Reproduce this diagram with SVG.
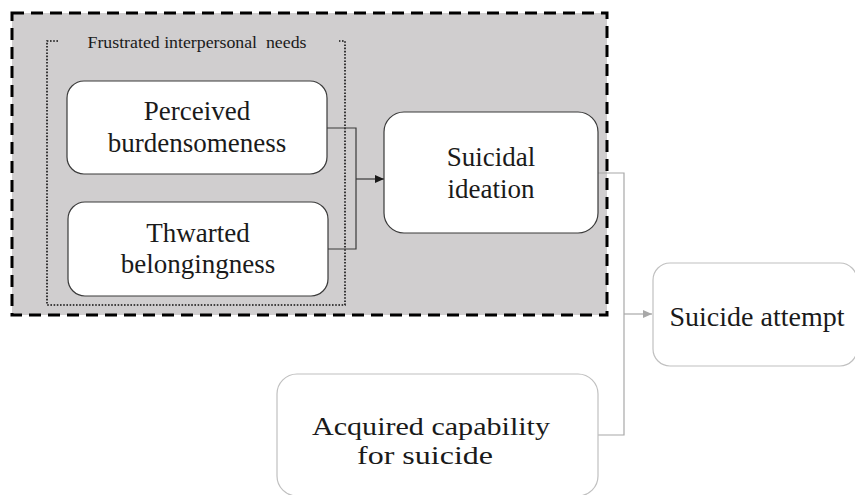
<svg xmlns="http://www.w3.org/2000/svg" width="855" height="495" viewBox="0 0 855 495">
<style>
.t{font-family:"Liberation Serif","Times New Roman","DejaVu Serif",serif;fill:#1a1a1a;text-anchor:middle}
.b{font-size:27px}
.c{font-size:27px}
.d{font-size:25px}
.dark{fill:#ffffff;stroke:#3a3a3a;stroke-width:1.2}
.light{fill:#ffffff;stroke:#c0c0c0;stroke-width:1.2}
.k{fill:none;stroke:#3a3a3a;stroke-width:1.2}
.g{fill:none;stroke:#a8a8a8;stroke-width:1.2}
</style>
<defs>
<marker id="ak" markerWidth="9" markerHeight="8" refX="9" refY="4" orient="auto" markerUnits="userSpaceOnUse"><path d="M0,0 L9,4 L0,8 z" fill="#1a1a1a"/></marker>
<marker id="ag" markerWidth="9" markerHeight="8" refX="9" refY="4" orient="auto" markerUnits="userSpaceOnUse"><path d="M0,0 L9,4 L0,8 z" fill="#a8a8a8"/></marker>
</defs>
<g id="group-frame">
<rect x="12" y="13" width="595" height="302" fill="#d0cecf" stroke="#000" stroke-width="3" stroke-dasharray="12 7"/>
</g>
<g id="group-frustrated">
<path d="M58,41 H47 V305 H345 V41 H339" fill="none" stroke="#111" stroke-width="1.6" stroke-dasharray="1.6 1.6"/>
<text class="t" x="197" y="48" font-size="16" textLength="219" lengthAdjust="spacingAndGlyphs" style="white-space:pre">Frustrated interpersonal  needs</text>
</g>
<g id="connectors">
<path class="k" d="M327,128 H356 V249 H328"/>
<path class="k" d="M356,179 H384" marker-end="url(#ak)"/>
<path class="g" d="M598,173 H624 V435 H598"/>
<path class="g" d="M624,314 H652" marker-end="url(#ag)"/>
</g>
<g id="node-perceived">
<rect class="dark" x="67" y="81" width="260" height="93" rx="17"/>
<text class="t b" x="197" y="120">Perceived</text>
<text class="t b" x="197" y="152">burdensomeness</text>
</g>
<g id="node-thwarted">
<rect class="dark" x="68" y="202" width="260" height="94" rx="17"/>
<text class="t b" x="198" y="242">Thwarted</text>
<text class="t b" x="198" y="273">belongingness</text>
</g>
<g id="node-ideation">
<rect class="dark" x="384" y="112" width="214" height="121" rx="20"/>
<text class="t b" x="491" y="166">Suicidal</text>
<text class="t b" x="491" y="198">ideation</text>
</g>
<g id="node-attempt">
<rect class="light" x="653" y="263" width="204" height="103" rx="17"/>
<text class="t c" x="757" y="326" textLength="175" lengthAdjust="spacingAndGlyphs">Suicide attempt</text>
</g>
<g id="node-capability">
<rect class="light" x="277" y="374" width="321" height="122" rx="20"/>
<text class="t d" x="431" y="435" textLength="238" lengthAdjust="spacingAndGlyphs">Acquired capability</text>
<text class="t d" x="425" y="464" textLength="136" lengthAdjust="spacingAndGlyphs">for suicide</text>
</g>
</svg>
